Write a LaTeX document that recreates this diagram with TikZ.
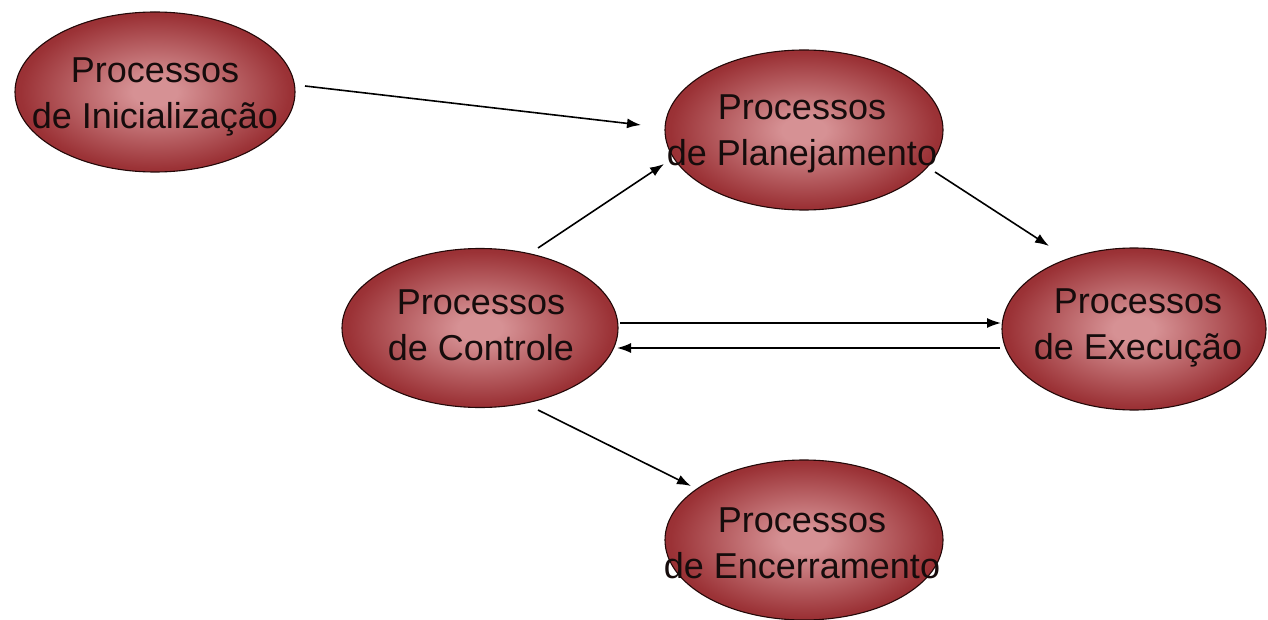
\documentclass[tikz,border=0pt]{standalone}
\usepackage{fontspec}
\setmainfont{Liberation Sans}
\usetikzlibrary{shapes.geometric,arrows.meta}
\definecolor{procdark}{RGB}{112,14,18}
\definecolor{procmid}{RGB}{155,50,54}
\definecolor{proclight}{RGB}{214,145,148}
\definecolor{procline}{RGB}{35,8,8}
\definecolor{proctext}{RGB}{22,12,12}
\pgfdeclareradialshading{procshade}{\pgfpoint{0bp}{0bp}}{%
  color(0bp)=(proclight); color(4bp)=(proclight); color(24bp)=(procmid); color(50bp)=(procdark); color(60bp)=(procdark)}
\tikzset{
  proc/.style={ellipse, draw=procline, line width=1.1pt, shading=procshade, inner sep=0pt},
  proctxt/.style={align=center, text=proctext, font=\fontsize{36}{46}\selectfont, inner sep=0pt},
  conn/.style={draw=black, line width=1.6pt, -{Latex[length=14pt,width=10pt]}}
}
\begin{document}
\begin{tikzpicture}[x=1pt,y=-1pt]
\useasboundingbox (0,0) rectangle (1268,620);
% ellipses
\node[proc, minimum width=280pt, minimum height=160pt] (ini) at (155,92) {};
\node[proc, minimum width=278pt, minimum height=160pt] (plan) at (804,130) {};
\node[proc, minimum width=276pt, minimum height=159pt] (ctl) at (480,328) {};
\node[proc, minimum width=264pt, minimum height=162pt] (exe) at (1134,329) {};
\node[proc, minimum width=278pt, minimum height=160pt] (enc) at (804,540) {};
% texts
\node[proctxt] (iniT) at (155,97) {Processos\\de Inicialização};
\node[proctxt] (planT) at (802,134) {Processos\\de Planejamento};
\node[proctxt] (ctlT) at (481,325) {Processos\\de Controle};
\node[proctxt] (exeT) at (1138,328) {Processos\\de Execução};
\node[proctxt] (encT) at (802,543) {Processos\\de Encerramento};
% connector end points
\coordinate (c1s) at (305,86);  \coordinate (c1e) at (641,125);
\coordinate (c2s) at (538,248); \coordinate (c2e) at (664,164);
\coordinate (c3s) at (935,172); \coordinate (c3e) at (1049,246);
\coordinate (c4s) at (620,323); \coordinate (c4e) at (1001,323);
\coordinate (c5s) at (1000,348); \coordinate (c5e) at (617,348);
\coordinate (c6s) at (538,410); \coordinate (c6e) at (691,486);
\draw[conn] (c1s) -- (c1e);
\draw[conn] (c2s) -- (c2e);
\draw[conn] (c3s) -- (c3e);
\draw[conn] (c4s) -- (c4e);
\draw[conn] (c5s) -- (c5e);
\draw[conn] (c6s) -- (c6e);
\end{tikzpicture}
\end{document}
